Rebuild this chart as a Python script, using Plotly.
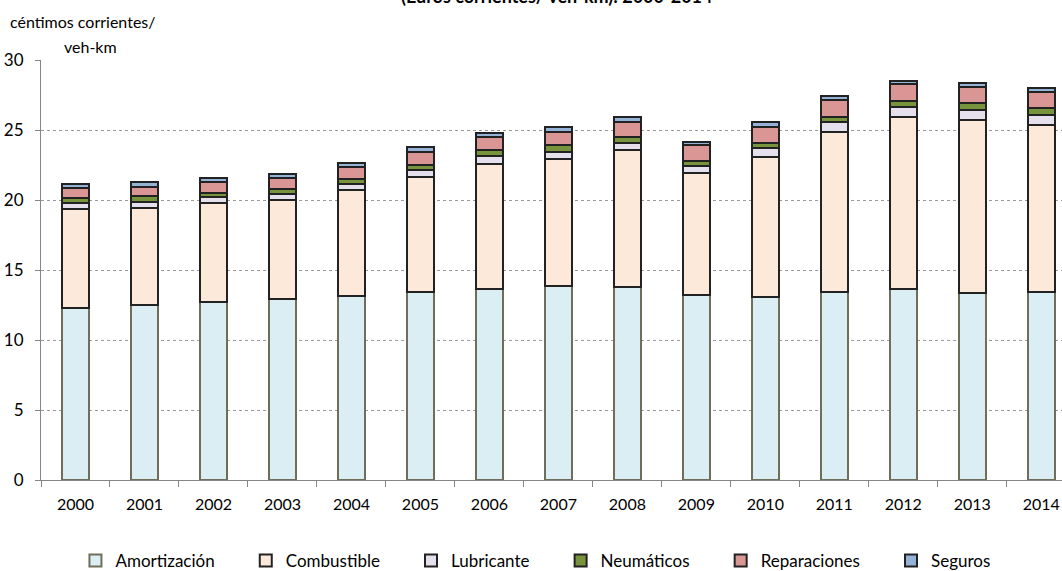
import plotly.graph_objects as go

years = ["2000", "2001", "2002", "2003", "2004", "2005", "2006", "2007",
         "2008", "2009", "2010", "2011", "2012", "2013", "2014"]
amortizacion = [12.30, 12.50, 12.70, 12.95, 13.15, 13.40, 13.65, 13.85,
                13.80, 13.25, 13.10, 13.45, 13.65, 13.35, 13.45]
combustible = [7.08, 6.90, 7.06, 7.03, 7.56, 8.26, 8.95, 9.08,
               9.75, 8.65, 10.00, 11.39, 12.25, 12.36, 11.89]
lubricante = [0.43, 0.48, 0.45, 0.42, 0.41, 0.48, 0.56, 0.52,
              0.55, 0.53, 0.64, 0.71, 0.76, 0.72, 0.73]
neumaticos = [0.31, 0.38, 0.29, 0.39, 0.38, 0.36, 0.41, 0.48,
              0.38, 0.38, 0.35, 0.40, 0.43, 0.47, 0.48]
reparaciones = [0.71, 0.69, 0.76, 0.76, 0.83, 0.90, 0.91, 0.95,
                1.07, 1.12, 1.15, 1.19, 1.20, 1.15, 1.14]
seguros = [0.31, 0.35, 0.29, 0.31, 0.33, 0.40, 0.32, 0.33,
           0.35, 0.23, 0.31, 0.29, 0.23, 0.28, 0.29]

series = [
    ("Amortización", amortizacion, "#DAEEF3", "#6E6E5A"),
    ("Combustible", combustible, "#FDE9D9", "#222222"),
    ("Lubricante", lubricante, "#E6E0EC", "#222222"),
    ("Neumáticos", neumaticos, "#77933C", "#222222"),
    ("Reparaciones", reparaciones, "#D99694", "#222222"),
    ("Seguros", seguros, "#95B3D7", "#222222"),
]

FONT = "Lato, sans-serif"

fig = go.Figure()
for name, vals, fill, edge in series:
    fig.add_trace(go.Bar(
        x=years, y=vals, name=name + "\u00a0" * 6,
        marker=dict(color=fill, line=dict(color=edge, width=2)),
    ))

fig.update_layout(
    width=1062, height=571,
    barmode="stack", bargap=0.6,
    plot_bgcolor="white", paper_bgcolor="white",
    margin=dict(l=41, r=0, t=60, b=91, autoexpand=False),
    font=dict(family=FONT, size=16, color="#000"),
    showlegend=True,
    legend=dict(orientation="h", x=0.497, xanchor="center",
                yref="container", y=0.0175, yanchor="middle",
                font=dict(size=17), traceorder="normal", itemwidth=30),
    xaxis=dict(type="category", range=[-0.5, 14.3], showgrid=False,
               automargin=False,
               showline=True, linecolor="#868686", linewidth=1,
               ticks="outside", ticklen=6, tickcolor="#868686",
               tickson="boundaries", ticklabelstandoff=10,
               tickfont=dict(size=16)),
    yaxis=dict(range=[0, 30], dtick=5, showgrid=True, gridcolor="#9a9a9a",
               automargin=False,
               griddash="dot", gridwidth=1, showline=True,
               linecolor="#868686", linewidth=1, ticks="outside", ticklen=5,
               tickcolor="#868686", ticklabelstandoff=8,
               tickfont=dict(size=17), zeroline=False),
    annotations=[
        dict(text="<b>(Euros corrientes/ veh-km): 2000-2014</b>",
             xref="paper", yref="paper", x=0.505, y=1.152,
             xanchor="center", yanchor="middle", showarrow=False,
             font=dict(size=18)),
        dict(text="céntimos corrientes/", xref="paper", yref="paper",
             x=-0.0323, y=1.0905, xanchor="left", yanchor="middle",
             showarrow=False, font=dict(size=16)),
        dict(text="veh-km", xref="paper", yref="paper",
             x=0.0206, y=1.031, xanchor="left", yanchor="middle",
             showarrow=False, font=dict(size=16)),
    ],
)

fig.write_html("out.html", config={"displayModeBar": False},
               post_script="document.body.style.margin='0';"
                           "document.body.style.overflow='hidden';")
